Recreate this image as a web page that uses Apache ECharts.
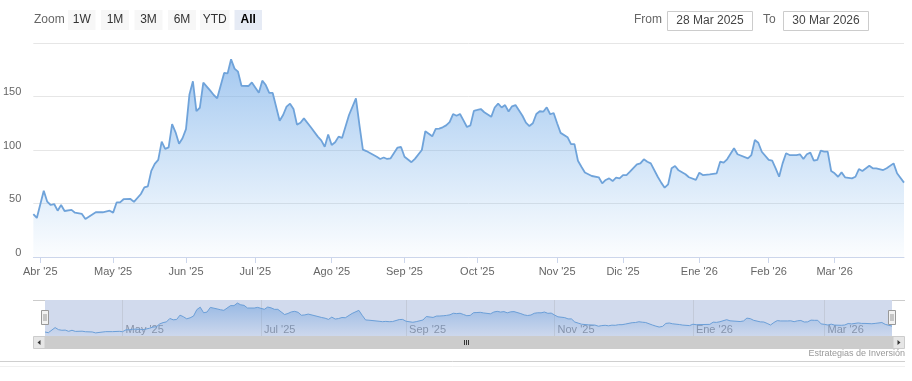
<!DOCTYPE html>
<html><head><meta charset="utf-8">
<script src="https://cdn.jsdelivr.net/npm/echarts@6/dist/echarts.min.js"></script>
<style>html,body{margin:0;padding:0;background:#fff}#c{width:912px;height:381px}</style>
</head><body><div id="c"></div>
<script>
// ---- data ----
const rangeStart = '2025-03-28';
const rangeEnd = '2026-03-30';
const holidays = ['2025-04-18','2025-05-26','2025-06-19','2025-07-04','2025-09-01','2025-11-27','2025-12-25','2026-01-01','2026-01-19','2026-02-16'];
const monthNames = ['Ene','Feb','Mar','Abr','May','Jun','Jul','Ago','Sep','Oct','Nov','Dic'];
const yMin = 0, yMax = 200, yStep = 50;
const zoomButtons = ['1W','1M','3M','6M','YTD','All'];
const fromLabel = '28 Mar 2025', toLabel = '30 Mar 2026';
const creditText = 'Estrategias de Inversión';

const sampleDates = [
'2025-03-28','2025-03-31','2025-04-02','2025-04-03','2025-04-04','2025-04-07','2025-04-08','2025-04-09','2025-04-10','2025-04-14',
'2025-04-15','2025-04-17','2025-04-21','2025-04-24','2025-04-28','2025-04-30','2025-05-01','2025-05-02','2025-05-05','2025-05-06',
'2025-05-08','2025-05-09','2025-05-13','2025-05-14','2025-05-15','2025-05-16','2025-05-19','2025-05-20','2025-05-21','2025-05-22',
'2025-05-23','2025-05-27','2025-05-28','2025-05-29','2025-05-30','2025-06-02','2025-06-03','2025-06-04','2025-06-05','2025-06-06',
'2025-06-09','2025-06-11','2025-06-12','2025-06-13','2025-06-17','2025-06-18','2025-06-20','2025-06-23','2025-06-24','2025-06-25',
'2025-06-27','2025-06-30','2025-07-02','2025-07-03','2025-07-07','2025-07-08','2025-07-09','2025-07-11','2025-07-14','2025-07-15',
'2025-07-16','2025-07-17','2025-07-18','2025-07-21','2025-07-22','2025-07-24','2025-07-28','2025-07-29','2025-07-30','2025-07-31',
'2025-08-01','2025-08-04','2025-08-05','2025-08-06','2025-08-08','2025-08-12','2025-08-13','2025-08-14','2025-08-15','2025-08-20',
'2025-08-21','2025-08-22','2025-08-25','2025-08-26','2025-08-28','2025-08-29','2025-09-02','2025-09-04','2025-09-05','2025-09-09',
'2025-09-10','2025-09-12','2025-09-15','2025-09-16','2025-09-17','2025-09-18','2025-09-19','2025-09-22','2025-09-23','2025-09-24',
'2025-09-25','2025-09-26','2025-09-29','2025-09-30','2025-10-01','2025-10-02','2025-10-03','2025-10-07','2025-10-08','2025-10-09',
'2025-10-10','2025-10-13','2025-10-14','2025-10-15','2025-10-16','2025-10-20','2025-10-21','2025-10-22','2025-10-23','2025-10-24',
'2025-10-27','2025-10-28','2025-10-29','2025-10-30','2025-10-31','2025-11-03','2025-11-04','2025-11-06','2025-11-07','2025-11-10',
'2025-11-11','2025-11-12','2025-11-13','2025-11-17','2025-11-19','2025-11-20','2025-11-21','2025-11-24','2025-11-25','2025-11-26',
'2025-11-28','2025-12-01','2025-12-02','2025-12-03','2025-12-05','2025-12-08','2025-12-09','2025-12-10','2025-12-11','2025-12-15',
'2025-12-16','2025-12-17','2025-12-18','2025-12-19','2025-12-22','2025-12-23','2025-12-26','2025-12-29','2025-12-31','2026-01-02',
'2026-01-05','2026-01-07','2026-01-09','2026-01-12','2026-01-13','2026-01-14','2026-01-16','2026-01-20','2026-01-23','2026-01-26',
'2026-01-27','2026-01-28','2026-01-29','2026-02-02','2026-02-03','2026-02-04','2026-02-05','2026-02-06','2026-02-09','2026-02-10',
'2026-02-12','2026-02-13','2026-02-17','2026-02-18','2026-02-19','2026-02-20','2026-02-23','2026-02-24','2026-02-25','2026-02-26',
'2026-02-27','2026-03-02','2026-03-03','2026-03-04','2026-03-05','2026-03-09','2026-03-10','2026-03-11','2026-03-12','2026-03-16',
'2026-03-17','2026-03-18','2026-03-20','2026-03-23','2026-03-25','2026-03-26','2026-03-30'
];
const sampleValues = [
40,36.5,62,51.7,48.6,49.5,43.3,48.6,43,44,
41.4,40.2,35.5,41.8,41.8,43.3,41.5,51,51,54,
54.2,51.5,58.9,65,66,80.5,87,90.7,107.8,101,
102.5,124.2,116.5,105.8,111,119.5,152,164.2,136.3,139.5,
163,155.5,151.4,148.3,172,171.6,184.8,176,173.2,160,
159.8,163.2,153.5,164.8,160.7,153.3,153.3,127.3,132.7,140.5,
143.3,138.3,123.7,125.5,129.6,121.2,112.5,109,103,114.5,
104.7,107.3,112.5,111.3,132.7,148.3,123.4,100.3,99,93.7,
91.6,93,91.6,92.2,102.3,102.8,93.7,88.6,91.7,100,
117.5,112.8,119.7,120,121.2,123,126,133.6,132,133.6,
127.7,121.5,123,136.6,137.4,138.3,135.3,131,139.7,143.3,
139.7,142,136,140.8,142,132,125.5,122.4,125,133.6,
136.2,135.8,139.9,133.4,134.6,125,116,112,105.5,105.5,
90,84.4,79,75.7,74.5,68.8,72,73.5,71,74.1,
73.5,76.6,76.6,79.7,86.6,87.5,91.3,89,87.5,75,
69.5,64.8,67.9,82.9,85,81,77.3,74.5,72,78.8,
76.6,77.3,78.2,89.1,88.1,91.3,101.6,96,92.2,95.3,
109.3,106.8,98.4,90.7,90,82.9,75,87.5,96.9,95.3,
95.3,96,91.6,96,97.5,90,90.7,99.4,98.4,98.4,
80.4,78.2,75,79.1,74.5,73.5,75,82.2,80.4,85.3,
82.9,82.9,81.3,82.9,87.5,78.2,69.5
];

// ---- trading-day categories (ordinal axis like the original) ----
const categories = [];
(function(){
  const d = new Date(rangeStart + 'T00:00:00Z');
  const end = new Date(rangeEnd + 'T00:00:00Z');
  while (d <= end) {
    const s = d.toISOString().slice(0,10);
    const wd = d.getUTCDay();
    if (wd !== 0 && wd !== 6 && holidays.indexOf(s) < 0) categories.push(s);
    d.setUTCDate(d.getUTCDate() + 1);
  }
})();
const seriesData = [];
sampleDates.forEach((d,k) => { const i = categories.indexOf(d); if (i >= 0) seriesData.push([i, sampleValues[k]]); });

function isMonthStart(i){ return i > 0 && categories[i].slice(5,7) !== categories[i-1].slice(5,7); }
function isNavTick(i){ return isMonthStart(i) && (+categories[i].slice(5,7)) % 2 === 1; }
function monthLabel(v){ return monthNames[+v.slice(5,7)-1] + " '" + v.slice(2,4); }

const FONT = 'Arial, "Liberation Sans", sans-serif';
const graphics = [];
// Zoom buttons
graphics.push({type:'text', style:{x:34, y:20, text:'Zoom', fill:'#666', font:'12px '+FONT, verticalAlign:'middle', textVerticalAlign:'middle'}});
const btnX = [68,101,134.5,168,200,234.5], btnW = [27.5,28,28,28,29.5,27.5];
zoomButtons.forEach((b,k) => {
  const sel = b === 'All';
  graphics.push({type:'rect', shape:{x:btnX[k], y:10, width:btnW[k], height:20}, style:{fill: sel ? '#e6ebf5' : '#f7f7f7'}});
  graphics.push({type:'text', style:{x:btnX[k]+btnW[k]/2, y:20, text:b, fill: sel ? '#000' : '#333', font:(sel?'bold ':'')+'12px '+FONT, align:'center', verticalAlign:'middle', textAlign:'center', textVerticalAlign:'middle'}});
});
// From / To
graphics.push({type:'text', style:{x:634, y:20, text:'From', fill:'#666', font:'12px '+FONT, verticalAlign:'middle', textVerticalAlign:'middle'}});
graphics.push({type:'rect', shape:{x:667.5, y:11.5, width:85, height:19}, style:{fill:'#fff', stroke:'#cccccc', lineWidth:1}});
graphics.push({type:'text', style:{x:710, y:21, text:fromLabel, fill:'#444', font:'12px '+FONT, align:'center', verticalAlign:'middle', textAlign:'center', textVerticalAlign:'middle'}});
graphics.push({type:'text', style:{x:763, y:20, text:'To', fill:'#666', font:'12px '+FONT, verticalAlign:'middle', textVerticalAlign:'middle'}});
graphics.push({type:'rect', shape:{x:783.5, y:11.5, width:85, height:19}, style:{fill:'#fff', stroke:'#cccccc', lineWidth:1}});
graphics.push({type:'text', style:{x:826, y:21, text:toLabel, fill:'#444', font:'12px '+FONT, align:'center', verticalAlign:'middle', textAlign:'center', textVerticalAlign:'middle'}});
// navigator outline
graphics.push({type:'line', shape:{x1:33, y1:300.5, x2:45, y2:300.5}, style:{stroke:'#cccccc', lineWidth:1}});
graphics.push({type:'line', shape:{x1:892, y1:300.5, x2:905, y2:300.5}, style:{stroke:'#cccccc', lineWidth:1}});
// handles
[41.5, 888.5].forEach(hx => {
  graphics.push({type:'rect', z:10, shape:{x:hx, y:310.5, width:7, height:14}, style:{fill:'#f2f2f2', stroke:'#999999', lineWidth:1}});
  graphics.push({type:'line', z:11, shape:{x1:hx+2.5, y1:314, x2:hx+2.5, y2:321}, style:{stroke:'#999', lineWidth:1}});
  graphics.push({type:'line', z:11, shape:{x1:hx+4.5, y1:314, x2:hx+4.5, y2:321}, style:{stroke:'#999', lineWidth:1}});
});
// scrollbar
graphics.push({type:'rect', shape:{x:45, y:336, width:848, height:13}, style:{fill:'#cccccc'}});
graphics.push({type:'rect', shape:{x:33.5, y:336.5, width:11.5, height:12}, style:{fill:'#e6e6e6', stroke:'#cccccc', lineWidth:1}});
graphics.push({type:'rect', shape:{x:893, y:336.5, width:11.5, height:12}, style:{fill:'#e6e6e6', stroke:'#cccccc', lineWidth:1}});
graphics.push({type:'polygon', shape:{points:[[40.5,340],[37.5,342.5],[40.5,345]]}, style:{fill:'#333'}});
graphics.push({type:'polygon', shape:{points:[[897.5,340],[900.5,342.5],[897.5,345]]}, style:{fill:'#333'}});
[464.5,466.5,468.5].forEach(gx => graphics.push({type:'line', shape:{x1:gx, y1:340, x2:gx, y2:345}, style:{stroke:'#333', lineWidth:1}}));
// footer
graphics.push({type:'line', shape:{x1:0, y1:361.5, x2:905, y2:361.5}, style:{stroke:'#cfcfcf', lineWidth:1}});
graphics.push({type:'line', shape:{x1:0, y1:366.5, x2:905, y2:366.5}, style:{stroke:'#f0f0f0', lineWidth:1}});
graphics.push({type:'text', style:{x:905, y:353.5, text:creditText, fill:'#999', font:'9px '+FONT, align:'right', verticalAlign:'middle', textAlign:'right', textVerticalAlign:'middle'}});

const chart = echarts.init(document.getElementById('c'), null, {renderer:'canvas'});
chart.setOption({
  animation: false,
  backgroundColor: '#fff',
  textStyle: {fontFamily: FONT},
  grid: [
    {left: 32, right: 8, top: 43, height: 214},
    {left: 45, right: 20, top: 300, height: 36, show: true, backgroundColor: 'rgba(102,133,194,0.3)', borderWidth: 0}
  ],
  xAxis: [
    {type:'category', data: categories, boundaryGap: false, gridIndex: 0,
     axisLine: {lineStyle: {color: '#ccd6eb'}},
     axisTick: {show: true, length: 6, interval: isMonthStart, lineStyle: {color: '#ccd6eb'}},
     axisLabel: {interval: isMonthStart, formatter: monthLabel, color: '#666', fontSize: 11, margin: 9, fontFamily: FONT},
     splitLine: {show: false}},
    {type:'category', data: categories, boundaryGap: false, gridIndex: 1,
     axisLine: {show: false}, axisTick: {show: false},
     axisLabel: {inside: true, interval: isNavTick, formatter: monthLabel, color: '#8a93a6', fontSize: 11, align: 'left', padding: [0,0,0,3], margin: 1, verticalAlign: 'bottom', fontFamily: FONT},
     splitLine: {show: true, interval: isNavTick, lineStyle: {color: '#c3cad9', width: 1}}}
  ],
  yAxis: [
    {type:'value', min: yMin, max: yMax, interval: yStep, gridIndex: 0,
     axisLine: {show: false}, axisTick: {show: false},
     axisLabel: {showMaxLabel: false, color: '#666', fontSize: 11, margin: 12, verticalAlign: 'bottom', lineHeight: 9, fontFamily: FONT},
     splitLine: {lineStyle: {color: '#e6e6e6'}}},
    {type:'value', min: 20, max: 200, gridIndex: 1, show: false, splitLine: {show: false}}
  ],
  series: [
    {type:'line', xAxisIndex: 0, yAxisIndex: 0, data: seriesData, showSymbol: false, silent: true,
     lineStyle: {color: '#6fa3da', width: 1.8},
     areaStyle: {color: {type:'linear', x:0, y:0, x2:0, y2:1, colorStops:[
       {offset:0, color:'rgba(118,172,232,0.95)'}, {offset:1, color:'rgba(124,181,236,0.04)'}]}}},
    {type:'line', xAxisIndex: 1, yAxisIndex: 1, data: seriesData, showSymbol: false, silent: true,
     lineStyle: {color: '#6b9fd8', width: 1},
     areaStyle: {color: {type:'linear', x:0, y:0, x2:0, y2:1, colorStops:[
       {offset:0, color:'rgba(100,155,220,0.75)'}, {offset:1, color:'rgba(100,155,220,0.05)'}]}}}
  ],
  graphic: graphics
});
</script></body></html>
